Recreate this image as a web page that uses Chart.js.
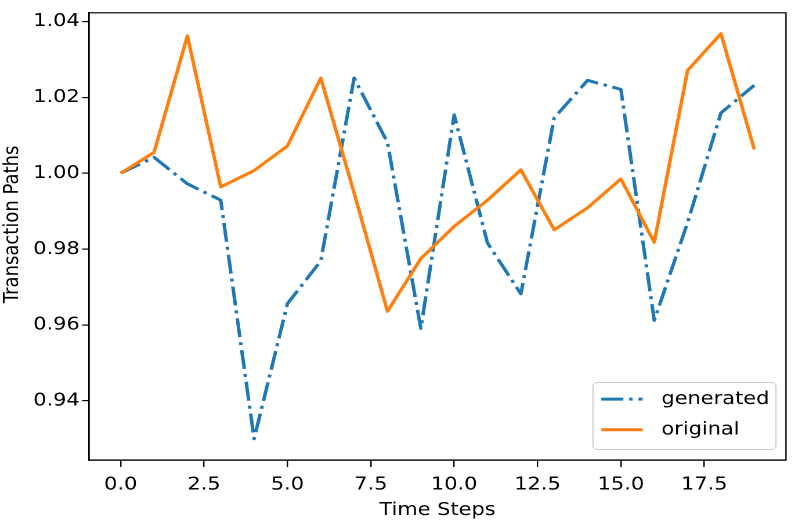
<!DOCTYPE html>
<html>
<head>
<meta charset="utf-8">
<script src="https://cdn.jsdelivr.net/npm/chart.js@4.4.1/dist/chart.umd.min.js"></script>
<style>
  html, body { margin: 0; padding: 0; background: #fff; overflow: hidden; }
  /* the reference is stretched sideways, so the chart is drawn narrower and widened */
  .chart-container {
    width: 685px; height: 524px; position: relative;
    transform: scaleX(1.1606); transform-origin: 0 0;
  }
</style>
</head>
<body>
<div class="chart-container"><canvas id="myChart"></canvas></div>
<script>
// ----------------------------------------------------------
// data
const steps = [0, 1, 2, 3, 4, 5, 6, 7, 8, 9, 10, 11, 12, 13, 14, 15, 16, 17, 18, 19];
const generated = [1.0, 1.0042, 0.9972, 0.9929, 0.9300, 0.9656, 0.9769, 1.0251, 1.0081, 0.9591,
  1.0154, 0.9816, 0.9682, 1.0146, 1.0245, 1.0221, 0.9612, 0.9870, 1.0159, 1.0232];
const original = [1.0, 1.0055, 1.0362, 0.9964, 1.0007, 1.0072, 1.0251, 0.9948, 0.9636, 0.9775,
  0.9860, 0.9929, 1.0009, 0.9851, 0.9909, 0.9985, 0.9818, 1.0271, 1.0368, 1.0063];
const xTicks = [0, 2.5, 5, 7.5, 10, 12.5, 15, 17.5];
const yTicks = [0.94, 0.96, 0.98, 1.0, 1.02, 1.04];
const seriesNames = ["generated", "original"];
const yTitle = "Transaction Paths";
const xTitle = "Time Steps";
// ----------------------------------------------------------
const FONT = "'DejaVu Sans', sans-serif";
const BLUE = "#1f77b4";
const ORANGE = "#ff7f0e";

function toPoints(values) {
  return steps.map((s, i) => ({ x: s, y: values[i] }));
}

// ----------------------------------------------------------
// box around the plot area (matplotlib spines)
const frameBox = {
  id: "frameBox",
  afterDatasetsDraw(chart) {
    const { ctx, chartArea } = chart;
    ctx.save();
    ctx.strokeStyle = "#000";
    ctx.lineWidth = 1.2;
    ctx.strokeRect(chartArea.left, chartArea.top,
      chartArea.right - chartArea.left, chartArea.bottom - chartArea.top);
    ctx.restore();
  },
};

// y title, sitting a little above the middle like in the reference
const sideTitle = {
  id: "sideTitle",
  afterDraw(chart) {
    const { ctx, chartArea } = chart;
    ctx.save();
    ctx.translate(10.8, (chartArea.top + chartArea.bottom) / 2 - 12);
    ctx.rotate(-Math.PI / 2);
    ctx.fillStyle = "#000";
    ctx.font = "18px " + FONT;
    ctx.textAlign = "center";
    ctx.textBaseline = "middle";
    ctx.fillText(yTitle, 0, 0);
    ctx.restore();
  },
};

// legend drawn inside the lower right corner
const innerLegend = {
  id: "innerLegend",
  afterDraw(chart) {
    const { ctx, chartArea } = chart;
    const w = 157.7, h = 67;
    const x0 = chartArea.right - 8.6 - w;
    const y0 = chartArea.bottom - 10.5 - h;
    ctx.save();
    ctx.beginPath();
    ctx.roundRect(x0, y0, w, h, 4);
    ctx.fillStyle = "rgba(255,255,255,0.8)";
    ctx.fill();
    ctx.strokeStyle = "#cccccc";
    ctx.lineWidth = 1;
    ctx.stroke();

    chart.data.datasets.forEach((ds, i) => {
      const y = y0 + 16.6 + i * 30.7;
      ctx.beginPath();
      ctx.strokeStyle = ds.borderColor;
      ctx.lineWidth = ds.borderWidth;
      ctx.setLineDash(ds.borderDash || []);
      ctx.moveTo(x0 + 7.2, y);
      ctx.lineTo(x0 + 42.8, y);
      ctx.stroke();
      ctx.setLineDash([]);
      ctx.fillStyle = "#000";
      ctx.font = "18px " + FONT;
      ctx.textBaseline = "middle";
      ctx.textAlign = "left";
      ctx.fillText(ds.label, x0 + 59, y);
    });
    ctx.restore();
  },
};

// ----------------------------------------------------------
const ctx = document.querySelector("#myChart").getContext("2d");
const theChart = new Chart(ctx, {
  type: "line",
  data: {
    datasets: [
      {
        label: seriesNames[0],
        data: toPoints(generated),
        borderColor: BLUE,
        borderWidth: 3,
        borderDash: [19, 5, 3, 5],
        borderJoinStyle: "round",
        pointRadius: 0,
        tension: 0,
        order: 2,
      },
      {
        label: seriesNames[1],
        data: toPoints(original),
        borderColor: ORANGE,
        borderWidth: 3,
        borderJoinStyle: "round",
        pointRadius: 0,
        tension: 0,
        order: 1,
      },
    ],
  },
  options: {
    responsive: true,
    maintainAspectRatio: false,
    devicePixelRatio: 2,
    animation: false,
    layout: { padding: { left: 0, right: 7.8, top: 7, bottom: 0 } },
    plugins: { legend: { display: false }, tooltip: { enabled: false } },
    scales: {
      x: {
        type: "linear",
        min: -0.95,
        max: 19.95,
        afterBuildTicks: (scale) => {
          scale.ticks = xTicks.map((v) => ({ value: v }));
        },
        afterFit: (scale) => {
          scale.height = 64;
        },
        ticks: {
          color: "#000",
          font: { family: FONT, size: 18 },
          padding: 7,
          maxRotation: 0,
          callback: (v) => Number(v).toFixed(1),
        },
        grid: { drawOnChartArea: false, drawTicks: true, tickLength: 7, color: "#000", lineWidth: 1.2 },
        border: { display: true, color: "#000", width: 1.2 },
        title: {
          display: true,
          text: xTitle,
          color: "#000",
          font: { family: FONT, size: 18, lineHeight: 1.2 },
          padding: { top: 0, bottom: 3 },
        },
      },
      y: {
        type: "linear",
        min: 0.9244,
        max: 1.0423,
        afterBuildTicks: (scale) => {
          scale.ticks = yTicks.map((v) => ({ value: v }));
        },
        afterFit: (scale) => {
          scale.width = 76.7;
        },
        ticks: {
          color: "#000",
          font: { family: FONT, size: 18 },
          padding: 2,
          callback: (v) => Number(v).toFixed(2),
        },
        grid: { drawOnChartArea: false, drawTicks: true, tickLength: 6, color: "#000", lineWidth: 1.2 },
        border: { display: true, color: "#000", width: 1.2 },
        title: { display: false },
      },
    },
  },
  plugins: [frameBox, sideTitle, innerLegend],
});
console.log(theChart.chartArea);
</script>
</body>
</html>
